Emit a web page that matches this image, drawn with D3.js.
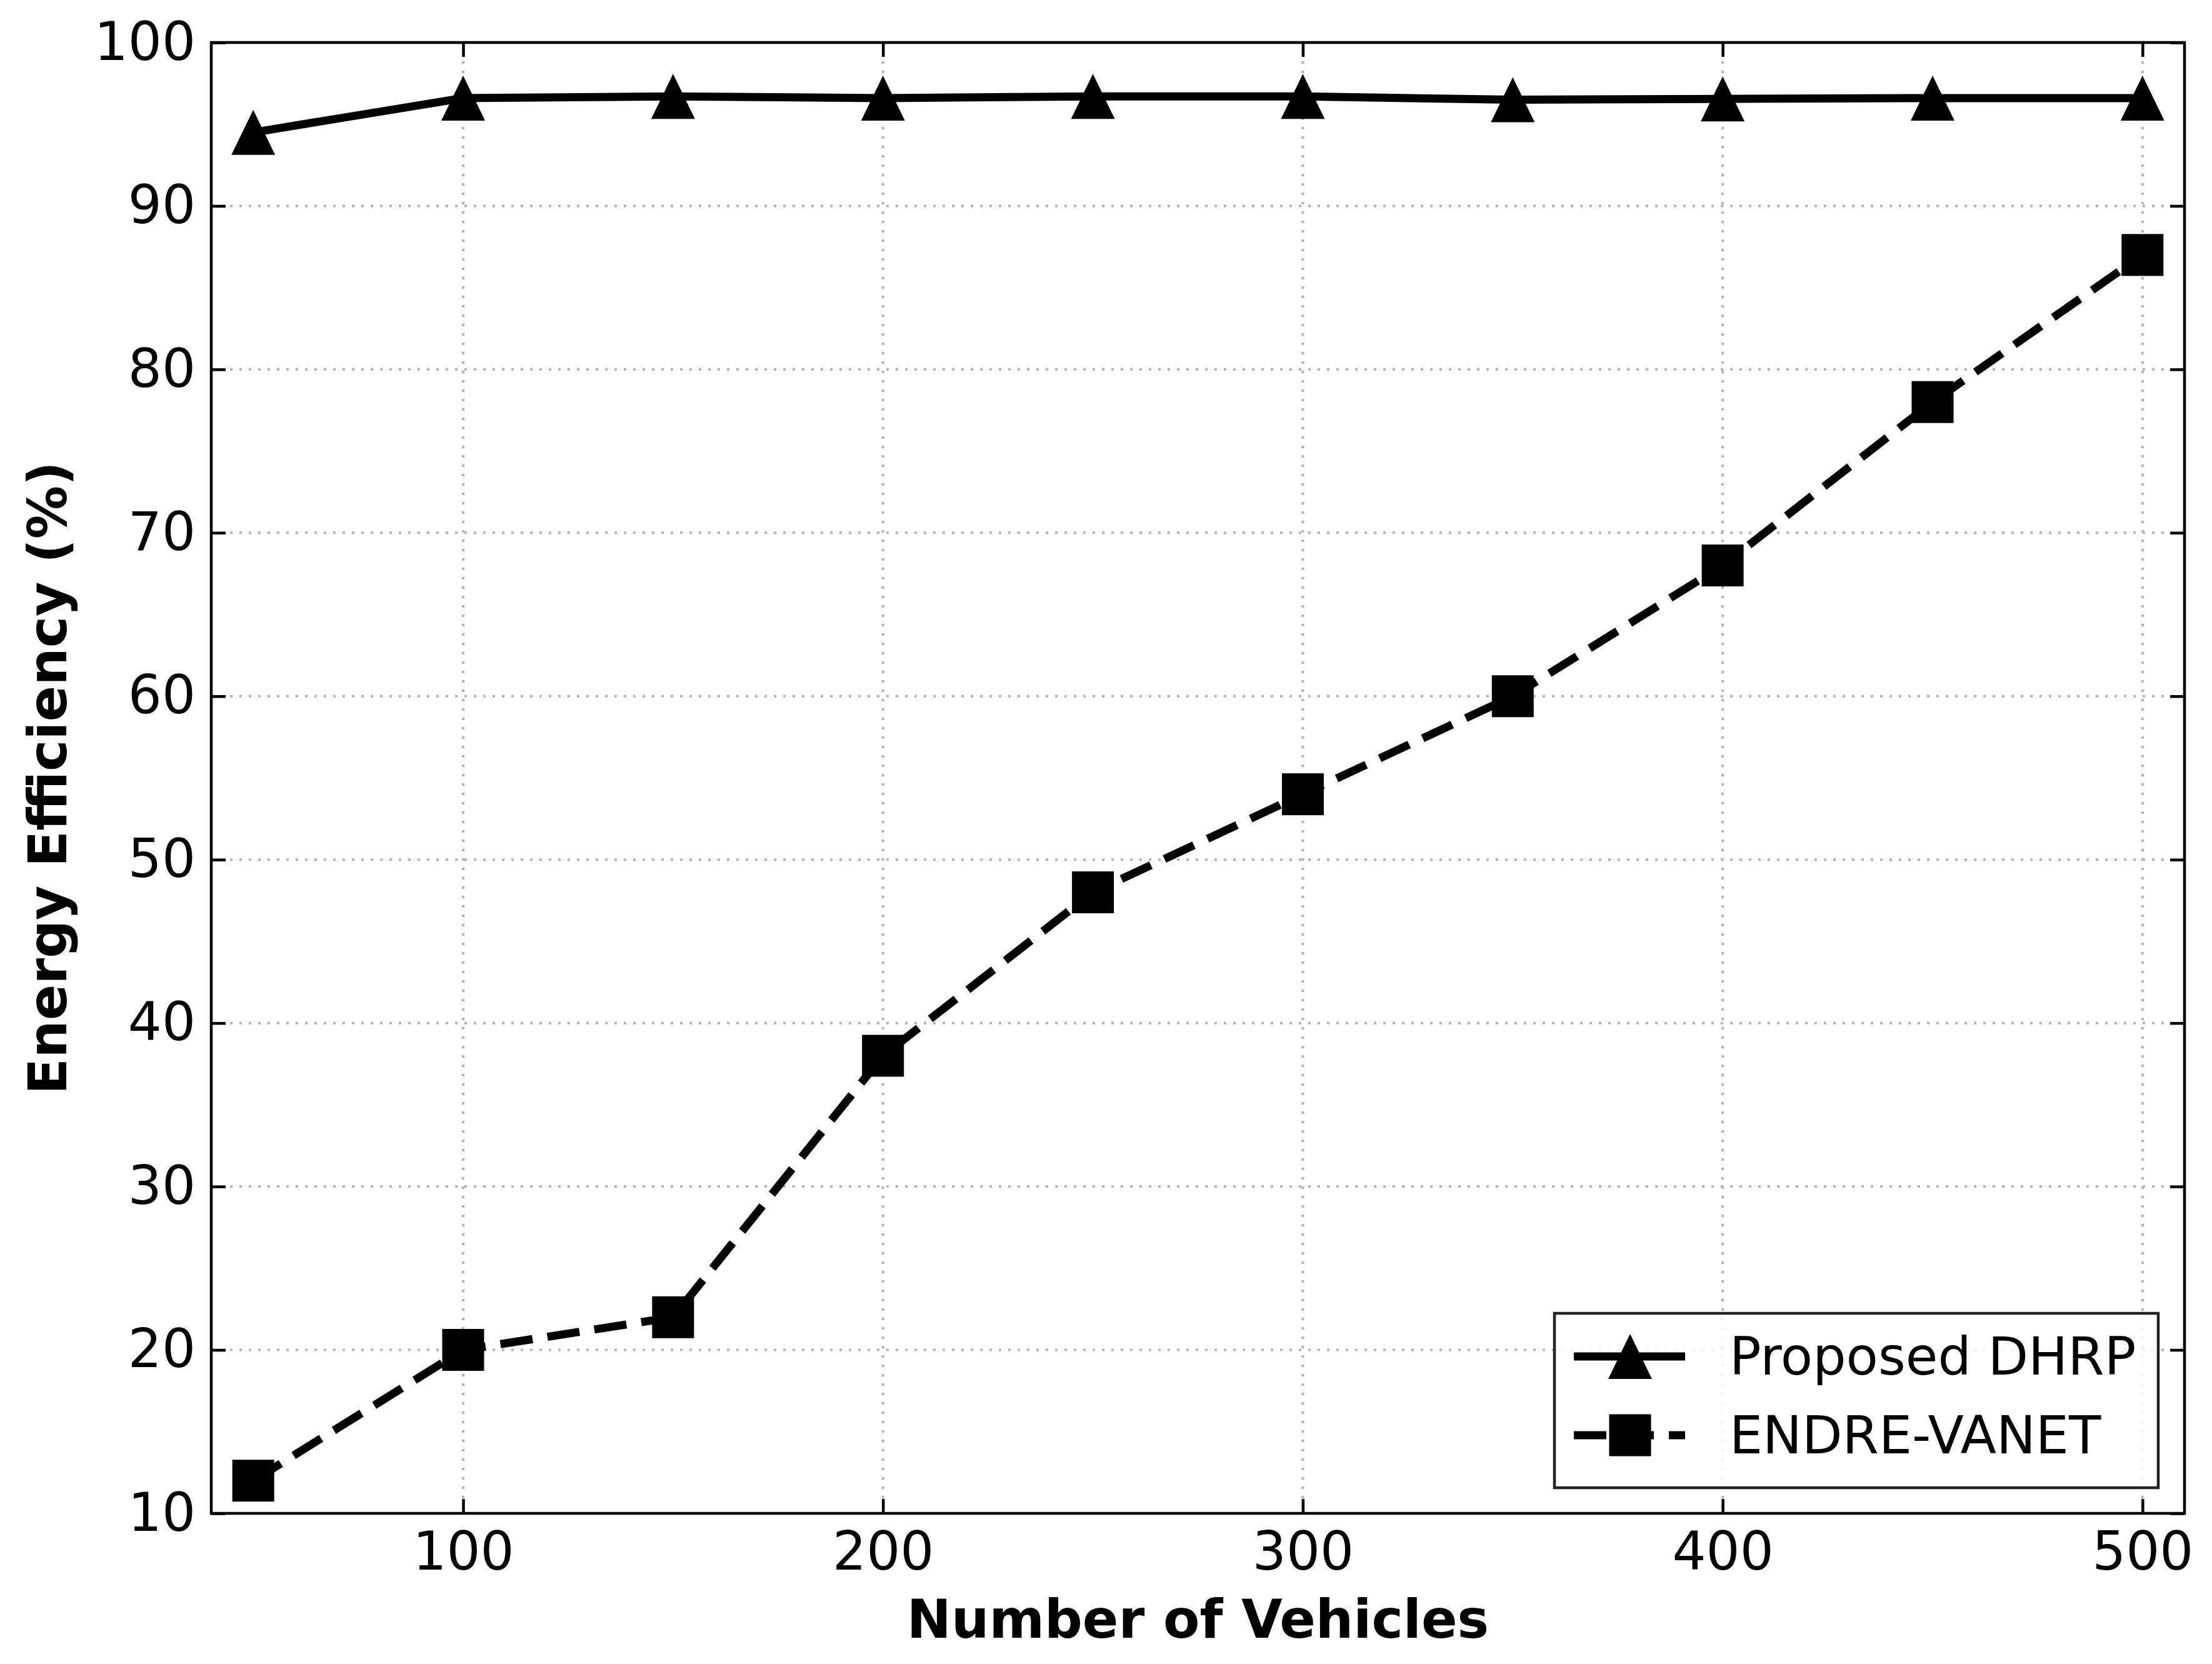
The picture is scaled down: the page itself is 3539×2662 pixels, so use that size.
<!DOCTYPE html>
<html>
<head>
<meta charset="utf-8">
<script src="https://cdn.jsdelivr.net/npm/d3@7"></script>
<style>
    body { margin: 0; background: #fff; }
    text { font-family: "DejaVu Sans", sans-serif; fill: #000; }
</style>
</head>
<body>
<div class="chart_viewport"></div>
<script>

var vehicles = [50, 100, 150, 200, 250, 300, 350, 400, 450, 500];
var proposedDHRP = [94.5, 96.6, 96.7, 96.6, 96.7, 96.7, 96.5, 96.55, 96.6, 96.6];
var endreVANET = [12, 20, 22, 38, 48, 54, 60, 68, 78, 87];

var seriesNames = ["Proposed DHRP", "ENDRE-VANET"];
var xTicks = [100, 200, 300, 400, 500];
var yTicks = [10, 20, 30, 40, 50, 60, 70, 80, 90, 100];

var xLabel = "Number of Vehicles";
var yLabel = "Energy Efficiency (%)";

function drawChart() {

    var width = 3539,
        height = 2662,
        left = 338,
        right = 3495,
        top = 68,
        bottom = 2421,
        tickLen = 23,
        fontSize = 85,
        lineWidth = 13,
        svg,
        x,
        y,
        line,
        series,
        legend;

    svg = d3.select(".chart_viewport").append("svg")
        .attr("width", width)
        .attr("height", height);

    svg.append("rect")
        .attr("width", width)
        .attr("height", height)
        .attr("fill", "#fff");

    x = d3.scaleLinear().domain([40, 510]).range([left, right]);
    y = d3.scaleLinear().domain([10, 100]).range([bottom, top]);

    // dotted grid
    svg.append("g").selectAll("line")
        .data(xTicks)
        .join("line")
        .attr("x1", function(d) { return x(d); })
        .attr("x2", function(d) { return x(d); })
        .attr("y1", top)
        .attr("y2", bottom);

    svg.append("g").selectAll("line")
        .data(yTicks.slice(1, -1))
        .join("line")
        .attr("x1", left)
        .attr("x2", right)
        .attr("y1", function(d) { return y(d); })
        .attr("y2", function(d) { return y(d); });

    svg.selectAll("g line")
        .attr("stroke", "#b4b4b4")
        .attr("stroke-width", 4)
        .attr("stroke-dasharray", "4,11");

    // axes, ticks pointing inward on all four sides
    var axisStyle = function(g) {
        g.select(".domain").remove();
        g.selectAll(".tick line").attr("stroke", "#000").attr("stroke-width", 4.5);
        g.selectAll(".tick text")
            .attr("font-family", "DejaVu Sans")
            .attr("font-size", fontSize)
            .attr("fill", "#000");
    };

    svg.append("g")
        .attr("transform", "translate(0," + bottom + ")")
        .call(d3.axisBottom(x).tickValues(xTicks).tickSizeInner(-tickLen).tickSizeOuter(0).tickPadding(30))
        .call(axisStyle);

    svg.append("g")
        .attr("transform", "translate(0," + top + ")")
        .call(d3.axisTop(x).tickValues(xTicks).tickSizeInner(-tickLen).tickSizeOuter(0).tickFormat(""))
        .call(axisStyle);

    svg.append("g")
        .attr("transform", "translate(" + left + ",0)")
        .call(d3.axisLeft(y).tickValues(yTicks).tickSizeInner(-tickLen).tickSizeOuter(0).tickPadding(25))
        .call(axisStyle);

    svg.append("g")
        .attr("transform", "translate(" + right + ",0)")
        .call(d3.axisRight(y).tickValues(yTicks).tickSizeInner(-tickLen).tickSizeOuter(0).tickFormat(""))
        .call(axisStyle);

    svg.append("rect")
        .attr("x", left)
        .attr("y", top)
        .attr("width", right - left)
        .attr("height", bottom - top)
        .attr("fill", "none")
        .attr("stroke", "#000")
        .attr("stroke-width", 4.5);

    // series
    series = [
        { name: seriesNames[0], values: proposedDHRP, dash: null, marker: "triangle" },
        { name: seriesNames[1], values: endreVANET, dash: "52,24", marker: "square" }
    ];

    line = d3.line()
        .x(function(d) { return x(d[0]); })
        .y(function(d) { return y(d[1]); });

    var triangle = "M0,-36L35,36L-35,36Z";

    var drawMarker = function(sel, kind) {
        if (kind === "triangle") {
            sel.append("path").attr("d", triangle).attr("fill", "#000");
        } else {
            sel.append("rect")
                .attr("x", -33.5).attr("y", -33.5)
                .attr("width", 67).attr("height", 67)
                .attr("fill", "#000");
        }
    };

    series.forEach(function(s) {

        var pts = vehicles.map(function(v, i) { return [v, s.values[i]]; });

        svg.append("path")
            .datum(pts)
            .attr("d", line)
            .attr("fill", "none")
            .attr("stroke", "#000")
            .attr("stroke-width", lineWidth)
            .attr("stroke-linejoin", "round")
            .attr("stroke-dasharray", s.dash);

        svg.append("g").selectAll("g")
            .data(pts)
            .join("g")
            .attr("transform", function(d) { return "translate(" + x(d[0]) + "," + y(d[1]) + ")"; })
            .each(function() { drawMarker(d3.select(this), s.marker); });
    });

    // legend
    legend = svg.append("g");

    legend.append("rect")
        .attr("x", 2487)
        .attr("y", 2101)
        .attr("width", 966)
        .attr("height", 279)
        .attr("fill", "#fff")
        .attr("fill-opacity", 0.85)
        .attr("stroke", "#222")
        .attr("stroke-width", 4.5);

    series.forEach(function(s, i) {

        var cy = 2170 + i * 126;

        legend.append("line")
            .attr("x1", 2518)
            .attr("x2", 2696)
            .attr("y1", cy)
            .attr("y2", cy)
            .attr("stroke", "#000")
            .attr("stroke-width", lineWidth)
            .attr("stroke-dasharray", s.dash);

        drawMarker(legend.append("g").attr("transform", "translate(2608," + cy + ")"), s.marker);

        legend.append("text")
            .attr("x", 2767)
            .attr("y", cy)
            .attr("dy", "0.35em")
            .attr("font-size", 84)
            .text(s.name);
    });

    // axis titles
    svg.append("text")
        .attr("x", (left + right) / 2)
        .attr("y", 2620)
        .attr("text-anchor", "middle")
        .attr("font-size", fontSize)
        .attr("font-weight", "bold")
        .text(xLabel);

    svg.append("text")
        .attr("transform", "translate(106," + ((top + bottom) / 2) + ") rotate(-90)")
        .attr("text-anchor", "middle")
        .attr("font-size", fontSize)
        .attr("font-weight", "bold")
        .text(yLabel);
}

drawChart();

</script>
</body>
</html>
